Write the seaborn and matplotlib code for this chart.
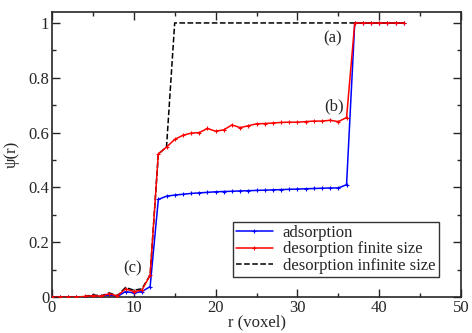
import numpy as np
import pandas as pd
import seaborn as sns
import matplotlib.pyplot as plt
from matplotlib.ticker import MultipleLocator, FuncFormatter

# --- data ---
r_ads = list(range(0, 44))
psi_ads = [0, 0, 0, 0, 0.001, 0.003, 0.002, 0.008, 0.002, 0.02, 0.015, 0.02, 0.038,
           0.356, 0.368, 0.372, 0.375, 0.378, 0.38, 0.382, 0.384, 0.385, 0.386, 0.387,
           0.388, 0.389, 0.39, 0.391, 0.392, 0.393, 0.394, 0.395, 0.396, 0.397, 0.398,
           0.398, 0.41, 1.0, 1.0, 1.0, 1.0, 1.0, 1.0, 1.0]

r_des = list(range(0, 44))
psi_des = [0, 0, 0, 0, 0.002, 0.005, 0.003, 0.012, 0.004, 0.03, 0.02, 0.025, 0.08,
           0.522, 0.547, 0.575, 0.59, 0.598, 0.60, 0.615, 0.605, 0.61, 0.628, 0.618,
           0.625, 0.632, 0.633, 0.635, 0.637, 0.638, 0.638, 0.64, 0.642, 0.642, 0.645,
           0.64, 0.655, 1.0, 1.0, 1.0, 1.0, 1.0, 1.0, 1.0]

r_inf = list(range(0, 44))
psi_inf = [0, 0, 0, 0, 0.002, 0.008, 0.004, 0.015, 0.005, 0.035, 0.025, 0.03, 0.08,
           0.522, 0.547, 1.0, 1.0, 1.0, 1.0, 1.0, 1.0, 1.0, 1.0, 1.0, 1.0, 1.0, 1.0,
           1.0, 1.0, 1.0, 1.0, 1.0, 1.0, 1.0, 1.0, 1.0, 1.0, 1.0, 1.0, 1.0, 1.0, 1.0,
           1.0, 1.0]

labels = ["adsorption", "desorption finite size", "desorption infinite size"]
notes = ["(a)", "(b)", "(c)"]
note_x = [34.3, 34.5, 9.9]
note_y = [0.945, 0.695, 0.105]

sns.set_style("ticks")
plt.rcParams['font.family'] = ['Liberation Serif', 'DejaVu Serif']

fig = plt.figure(figsize=(4.72, 3.33), dpi=100)
ax = fig.add_axes([0.110, 0.108, 0.867, 0.856])

sns.lineplot(x=r_inf, y=psi_inf, ax=ax, color="black", lw=1.1,
             dashes=(7, 2.5), linestyle="--", label=labels[2], zorder=3)
sns.lineplot(x=r_ads, y=psi_ads, ax=ax, color="blue", lw=1.1, marker="+",
             markersize=3.5, mew=0.8, markeredgecolor="blue", label=labels[0], zorder=2)
sns.lineplot(x=r_des, y=psi_des, ax=ax, color="red", lw=1.1, marker="+",
             markersize=3.5, mew=0.8, markeredgecolor="red", label=labels[1], zorder=4)

for t, xx, yy in zip(notes, note_x, note_y):
    ax.text(xx, yy, t, fontsize=12, ha="center", va="center")

ax.set_xlim(0, 50)
ax.set_ylim(0, 1.04)
ax.xaxis.set_major_locator(MultipleLocator(10))
ax.xaxis.set_minor_locator(MultipleLocator(5))
ax.yaxis.set_major_locator(MultipleLocator(0.2))
ax.yaxis.set_minor_locator(MultipleLocator(0.1))
ax.yaxis.set_major_formatter(FuncFormatter(lambda v, p: f"{v:g}"))
ax.tick_params(which="both", direction="in", top=True, right=True, labelsize=12)
ax.tick_params(which="major", length=6, width=1, pad=2)
ax.tick_params(which="minor", length=3, width=1)
for s in ax.spines.values():
    s.set_linewidth(1.2)
ax.set_xlabel("r (voxel)", fontsize=12, labelpad=-1)
ax.set_ylabel("ψ(r)", fontsize=12, labelpad=6)

h, l = ax.get_legend_handles_labels()
order = [1, 2, 0]
leg = ax.legend([h[i] for i in order], [l[i] for i in order], loc="lower right",
                bbox_to_anchor=(0.945, 0.07), borderaxespad=0, fontsize=12,
                frameon=True, fancybox=False, edgecolor="black", handlelength=2.2,
                borderpad=0.2, labelspacing=0.02, handletextpad=0.6)
leg.get_frame().set_linewidth(1.0)

fig.savefig("out.png", dpi=100)
